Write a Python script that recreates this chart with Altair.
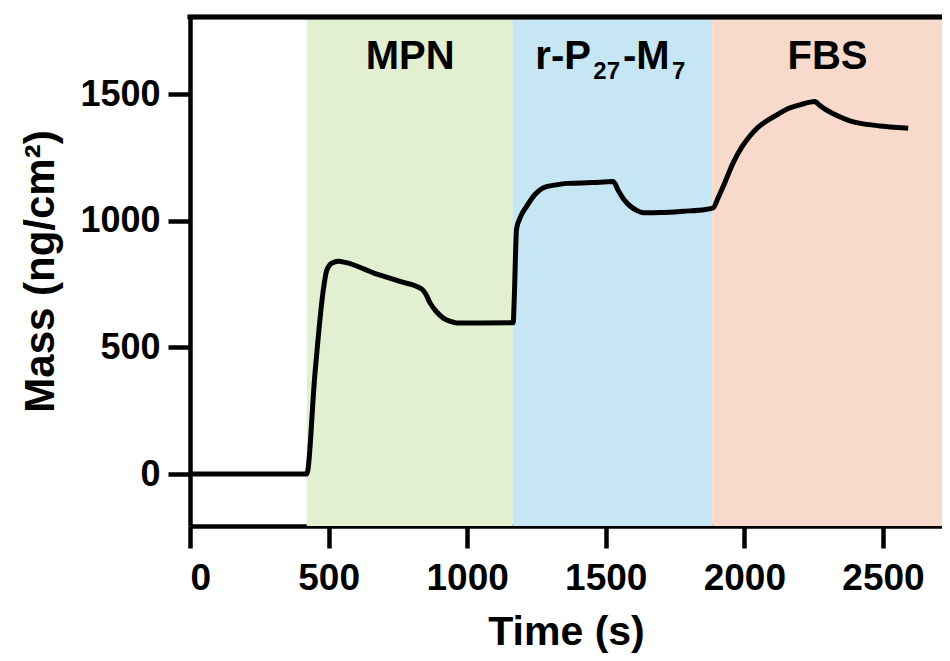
import altair as alt
import pandas as pd

# ---- data ----
time_s = [0, 421, 451, 481, 492, 505, 520, 535, 560, 661, 760, 836, 850, 866, 890, 914, 940, 962,
          1050, 1166, 1170, 1178, 1190, 1215, 1245, 1275, 1320, 1359, 1450, 1527, 1545, 1565,
          1581, 1610, 1635, 1700, 1780, 1860, 1888, 1905, 1924, 1960, 1990, 2020, 2050, 2081,
          2120, 2153, 2200, 2255, 2270, 2291, 2330, 2381, 2430, 2489, 2540, 2591]
mass = [0, 0, 399, 728, 800, 827, 837, 840, 836, 795, 760, 731, 712, 676, 640, 616, 603, 597,
        597, 598, 700, 966, 1010, 1058, 1105, 1131, 1142, 1148, 1151, 1155, 1120, 1085,
        1065, 1042, 1032, 1033, 1038, 1045, 1052, 1090, 1137, 1230, 1290, 1335, 1370, 1395,
        1420, 1441, 1458, 1471, 1458, 1441, 1418, 1395, 1383, 1375, 1370, 1366]

region_names = ["MPN", "r-P27-M7", "FBS"]
region_start = [421, 1164, 1884]
region_end = [1164, 1884, 2713]
region_colors = ["#E2EFD0", "#C7E6F4", "#F8DACD"]

# centred region labels
center_text = ["MPN", "FBS"]
center_x = [794, 2300]
center_y = [1600, 1600]

# pieces of "r-P27-M7" (subscripts smaller and lower)
piece_text = ["r-P", "27", "-M", "7"]
piece_x = [1246, 1455, 1562, 1739]
piece_y = [1600, 1560, 1600, 1560]
piece_size = [40, 24, 40, 24]

x_ticks = [0, 500, 1000, 1500, 2000, 2500]
y_ticks = [0, 500, 1000, 1500]
X_DOMAIN = [0, 2713]
Y_DOMAIN = [-205, 1805]

FONT = "Liberation Sans"
W, H = 752, 509

trace = pd.DataFrame({"t": time_s, "m": mass})
regions = pd.DataFrame({"name": region_names, "start": region_start, "end": region_end})
centers = pd.DataFrame({"text": center_text, "t": center_x, "m": center_y})
pieces = pd.DataFrame({"text": piece_text, "t": piece_x, "m": piece_y, "fs": piece_size})

xscale = alt.Scale(domain=X_DOMAIN, nice=False, zero=False)
yscale = alt.Scale(domain=Y_DOMAIN, nice=False, zero=False)

x_axis = alt.Axis(values=x_ticks, format="d", title="Time (s)", labelPadding=12,
                  labelFontSize=37, titleY=118, titleBaseline="alphabetic", titleFontSize=41)
y_axis = alt.Axis(values=y_ticks, format="d", title="Mass (ng/cm²)", labelPadding=8,
                  titleX=-137, titleY=254, titleAngle=270, titleBaseline="alphabetic",
                  titleFontSize=42)

bands = alt.Chart(regions).mark_rect().encode(
    x=alt.X("start:Q", scale=xscale, axis=x_axis),
    x2="end:Q",
    color=alt.Color("name:N", scale=alt.Scale(domain=region_names, range=region_colors),
                    legend=None),
)

line = alt.Chart(trace).mark_line(color="black", strokeWidth=5, strokeJoin="round",
                                  interpolate="monotone").encode(
    x=alt.X("t:Q", scale=xscale, axis=x_axis),
    y=alt.Y("m:Q", scale=yscale, axis=y_axis),
)

top_border = alt.Chart(regions).mark_rule(color="black", strokeWidth=4.5,
                                          strokeCap="square").encode(
    x=alt.value(0), x2=alt.value(W), y=alt.value(0)
)

center_labels = alt.Chart(centers).mark_text(
    font=FONT, fontWeight="bold", fontSize=40, color="black",
    align="center", baseline="alphabetic"
).encode(
    x=alt.X("t:Q", scale=xscale),
    y=alt.Y("m:Q", scale=yscale),
    text="text:N",
)

piece_labels = alt.Chart(pieces).mark_text(
    font=FONT, fontWeight="bold", color="black", align="left", baseline="alphabetic"
).encode(
    x=alt.X("t:Q", scale=xscale),
    y=alt.Y("m:Q", scale=yscale),
    size=alt.Size("fs:Q", scale=None, legend=None),
    text="text:N",
)

chart = alt.layer(bands, line, center_labels, piece_labels, top_border).properties(
    width=W, height=H,
    autosize=alt.AutoSizeParams(type="none"),
    padding={"left": 182, "top": 9, "right": 0, "bottom": 127},
).configure_view(stroke=None).configure_axis(
    grid=False, domainColor="black", domainWidth=4.5, tickColor="black", tickWidth=4.5,
    tickSize=22, labelFont=FONT, labelFontSize=36, labelFontWeight="bold",
    labelColor="black", titleFont=FONT, titleFontWeight="bold", titleColor="black",
    zindex=1,
)

chart.save("out.html", embed_options={"renderer": "svg", "actions": False})
